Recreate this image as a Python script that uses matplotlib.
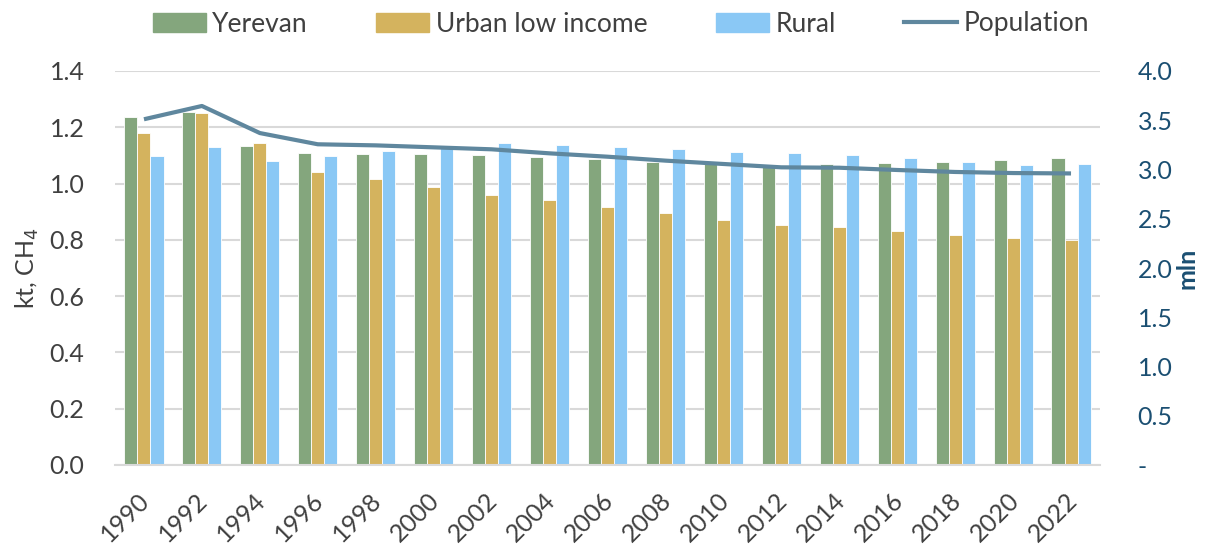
import matplotlib
matplotlib.use("Agg")
import matplotlib.pyplot as plt
import matplotlib.transforms as mtransforms
import numpy as np
from matplotlib.lines import Line2D
from matplotlib.patches import Patch

years = [str(y) for y in range(1990, 2023, 2)]
yerevan = [1.238, 1.254, 1.133, 1.108, 1.106, 1.106, 1.102, 1.095, 1.086, 1.078,
           1.069, 1.062, 1.069, 1.073, 1.078, 1.084, 1.092]
urban_low = [1.179, 1.250, 1.143, 1.041, 1.015, 0.988, 0.958, 0.941, 0.918, 0.897,
             0.872, 0.852, 0.845, 0.832, 0.817, 0.808, 0.800]
rural = [1.098, 1.130, 1.081, 1.099, 1.116, 1.127, 1.144, 1.137, 1.131, 1.122,
         1.112, 1.109, 1.103, 1.091, 1.077, 1.067, 1.070]
population = [3.51, 3.645, 3.37, 3.256, 3.245, 3.225, 3.205, 3.164, 3.13, 3.09,
              3.056, 3.022, 3.018, 2.995, 2.975, 2.964, 2.96]

c_yer = "#84A67D"
c_urb = "#D4B35E"
c_rur = "#8AC8F5"
c_pop = "#5F879E"
c_right = "#1B4F72"
c_text = "#404040"
fs = 18

plt.rcParams['font.family'] = ['Lato', 'DejaVu Sans']

fig = plt.figure(figsize=(12.15, 5.47), dpi=100)
ax = fig.add_axes([115/1215, (547-465)/547, (1100-115)/1215, (465-71)/547])
x = np.arange(len(years))
w = 0.225
ax.bar(x - w, yerevan, w, color=c_yer, edgecolor="white", linewidth=0.6, zorder=2)
ax.bar(x, urban_low, w, color=c_urb, edgecolor="white", linewidth=0.6, zorder=2)
ax.bar(x + w, rural, w, color=c_rur, edgecolor="white", linewidth=0.6, zorder=2)

ax.set_xlim(-0.5, len(years) - 0.5)
ax.set_ylim(0, 1.4)
ax.set_yticks(np.arange(0, 1.41, 0.2))
ax.set_yticklabels([f"{v:.1f}" for v in np.arange(0, 1.41, 0.2)], fontsize=fs, color=c_text)
ax.set_xticks(x)
ax.set_xticklabels(years, rotation=45, ha="right", rotation_mode="anchor", fontsize=fs, color=c_text)
ax.tick_params(axis="y", length=0, pad=22)
ax.tick_params(axis="x", length=0, pad=17)
offset = mtransforms.ScaledTranslation(-0.06, 0, fig.dpi_scale_trans)
for lab in ax.get_xticklabels():
    lab.set_transform(lab.get_transform() + offset)
ax.grid(axis="y", color="#D9D9D9", linewidth=1.5, zorder=0)
ax.set_axisbelow(True)
for s in ["top", "right", "left"]:
    ax.spines[s].set_visible(False)
ax.spines["bottom"].set_color("#D9D9D9")
ax.spines["bottom"].set_linewidth(1.5)
ax.set_ylabel("kt, CH$_4$", fontsize=fs, color=c_text, labelpad=6)

ax2 = ax.twinx()
ax2.plot(x, population, color=c_pop, linewidth=3.0, zorder=3, solid_capstyle="butt")
ax2.set_ylim(0, 4.0)
rt = np.arange(0, 4.01, 0.5)
ax2.set_yticks(rt)
ax2.set_yticklabels(["-"] + [f"{v:.1f}" for v in rt[1:]], fontsize=fs, color=c_right)
ax2.tick_params(axis="y", length=0, pad=27)
for s in ["top", "right", "left", "bottom"]:
    ax2.spines[s].set_visible(False)
ax2.set_ylabel("mln", fontsize=fs, color=c_right, fontweight="bold", labelpad=2)

handles = [Patch(color=c_yer, label="Yerevan"),
           Patch(color=c_urb, label="Urban low income"),
           Patch(color=c_rur, label="Rural"),
           Line2D([0], [0], color=c_pop, linewidth=3.0, label="Population")]
leg = fig.legend(handles=handles, loc="center", bbox_to_anchor=(621/1215, 1 - 24/547), ncol=4,
                 frameon=False, fontsize=19, handlelength=2.0, handleheight=0.75,
                 columnspacing=2.6, handletextpad=0.25)
for t in leg.get_texts():
    t.set_color(c_text)

fig.savefig("out.png", dpi=100)
